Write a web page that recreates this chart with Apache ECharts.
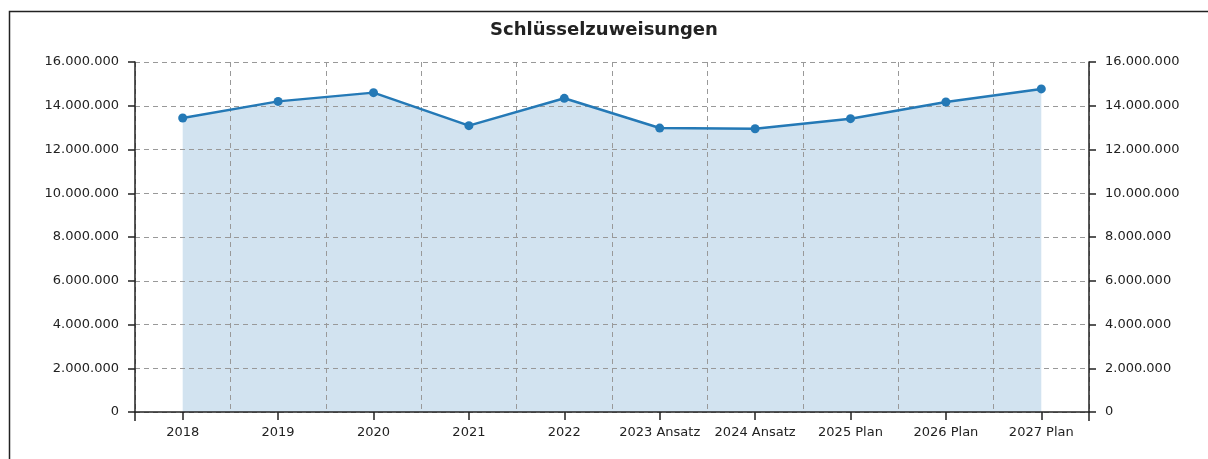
<!DOCTYPE html>
<html>
<head>
<meta charset="utf-8">
<script src="https://cdn.jsdelivr.net/npm/echarts@6/dist/echarts.min.js"></script>
<style>
  html, body { margin: 0; padding: 0; background: #fff; }
  #chart { width: 1208px; height: 459px; }
</style>
</head>
<body>
<div id="chart"></div>
<script>
var categories = ['2018', '2019', '2020', '2021', '2022', '2023 Ansatz', '2024 Ansatz', '2025 Plan', '2026 Plan', '2027 Plan'];
var values = [13440000, 14200000, 14600000, 13090000, 14340000, 12980000, 12950000, 13410000, 14170000, 14770000];
var yTicks = [0, 16000000, 2000000]; // min, max, interval

var chart = echarts.init(document.getElementById('chart'));

function fmt(v) {
    return String(v).replace(/\B(?=(\d{3})+(?!\d))/g, '.');
}

var font = 'DejaVu Sans';
var labelStyle = { color: '#222', fontSize: 13, fontFamily: font };
var gridLine = { show: true, lineStyle: { color: '#999', type: [5, 4] } };
var blackLine = { color: '#222', width: 1.5 };

var option = {
    animation: false,
    title: {
        text: 'Schlüsselzuweisungen',
        left: 'center',
        top: 16,
        textStyle: { fontFamily: font, fontSize: 18, fontWeight: 'bold', color: '#222' }
    },
    graphic: [{
        type: 'rect',
        shape: { x: 9.5, y: 11.5, width: 1400, height: 700 },
        style: { fill: 'none', stroke: '#222', lineWidth: 1.5 },
        silent: true
    }],
    grid: { left: 135, right: 119, top: 62, bottom: 47 },
    xAxis: [{
        type: 'category',
        data: categories,
        boundaryGap: true,
        position: 'bottom',
        z: 3,
        axisLine: { show: true, onZero: false, lineStyle: blackLine },
        axisTick: { show: true, inside: false, alignWithLabel: true, interval: 0, length: 8, lineStyle: blackLine },
        axisLabel: Object.assign({ margin: 14, interval: 0 }, labelStyle),
        splitLine: Object.assign({ interval: 0 }, gridLine)
    }, {
        // only used for the two end ticks below the plot
        type: 'value',
        position: 'bottom',
        min: 0, max: 1, interval: 1,
        z: 3,
        axisLine: { show: false, onZero: false },
        axisTick: { show: true, inside: false, length: 9, lineStyle: blackLine },
        axisLabel: { show: false },
        splitLine: { show: false }
    }],
    yAxis: [{
        type: 'value',
        min: yTicks[0], max: yTicks[1], interval: yTicks[2],
        position: 'left',
        z: 3,
        axisLine: { show: true, lineStyle: blackLine },
        axisTick: { show: true, length: 7, lineStyle: blackLine },
        axisLabel: Object.assign({ margin: 16, formatter: fmt }, labelStyle),
        splitLine: gridLine
    }, {
        type: 'value',
        min: yTicks[0], max: yTicks[1], interval: yTicks[2],
        position: 'right',
        z: 3,
        axisLine: { show: true, lineStyle: blackLine },
        axisTick: { show: true, length: 7, lineStyle: blackLine },
        axisLabel: Object.assign({ margin: 16, formatter: fmt }, labelStyle),
        splitLine: { show: false }
    }],
    series: [{
        type: 'line',
        data: values,
        symbol: 'none',
        lineStyle: { width: 0 },
        areaStyle: { color: '#d2e3f0', opacity: 1 },
        silent: true,
        z: 1
    }, {
        type: 'line',
        data: values,
        symbol: 'circle',
        symbolSize: 9,
        lineStyle: { color: '#2479b6', width: 2.5 },
        itemStyle: { color: '#2479b6' },
        z: 5
    }]
};

chart.setOption(option);
</script>
</body>
</html>
